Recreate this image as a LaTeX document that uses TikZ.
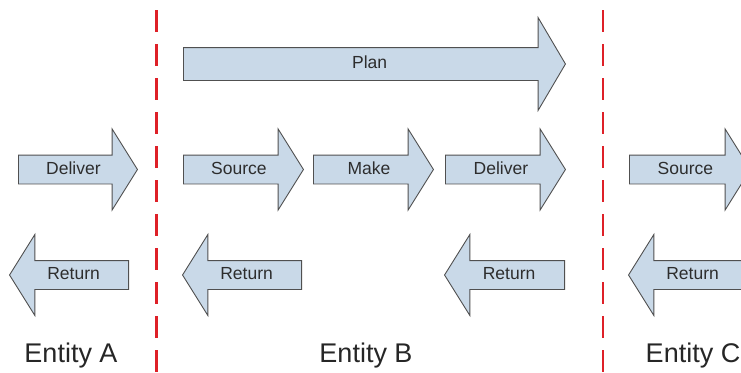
\documentclass[tikz,border=0pt]{standalone}
\usepackage{fontspec}
\setmainfont{Liberation Sans}
\usepackage{xcolor}
\usetikzlibrary{shapes,arrows,positioning,calc}

\definecolor{arrowfill}{RGB}{201,217,232}
\definecolor{arrowline}{RGB}{80,80,80}
\definecolor{arrowtext}{RGB}{45,45,45}
\definecolor{splitred}{RGB}{222,32,40}

\tikzset{
    flow/.style={single arrow, draw=arrowline, fill=arrowfill, line width=0.9pt,
        text=arrowtext, font=\fontsize{17.5}{19}\selectfont,
        text height=12.5pt, text depth=3.5pt, inner xsep=2pt, inner ysep=6pt,
        single arrow head extend=26pt, single arrow tip angle=116,
        minimum height=119pt, anchor=tail},
    backflow/.style={flow, shape border rotate=180},
    entity/.style={font=\fontsize{27}{30}\selectfont, text=black!85},
    split/.style={draw=splitred, line width=2.5pt, dash pattern=on 22pt off 12pt}
}

\begin{document}
\begin{tikzpicture}[x=1pt, y=-1pt]
    \useasboundingbox (0,0) rectangle (741,372);
    \clip (0,0) rectangle (741,372);

    % Entity A
    \node[flow] (deliverA) at (18,169.5) {Deliver};
    \node[backflow] (returnA) at (129,275) {Return};
    \node[entity] (entityA) at (71,356) {Entity A};

    % Entity B
    \node[flow, minimum height=382pt, text height=13pt, text depth=4pt, inner ysep=7.5pt,
        single arrow head extend=30pt, single arrow tip angle=119] (plan) at (183,64) {Plan};
    \node[flow, minimum height=120pt] (sourceB) at (183,169.5) {Source};
    \node[flow, minimum height=120pt] (makeB) at (313,169.5) {Make};
    \node[flow, minimum height=120pt] (deliverB) at (445,169.5) {Deliver};
    \node[backflow] (returnB1) at (302,275) {Return};
    \node[backflow, minimum height=120pt] (returnB2) at (565,275) {Return};
    \node[entity] (entityB) at (366,356) {Entity B};

    % Entity C
    \node[flow, minimum height=121pt] (sourceC) at (629,169.5) {Source};
    \node[backflow] (returnC) at (748,275) {Return};
    \node[entity] (entityC) at (693,356) {Entity C};

    % boundaries between entities
    \coordinate (ab top) at (156.5,10);
    \coordinate (ab bottom) at (156.5,380);
    \coordinate (bc top) at (603,10);
    \coordinate (bc bottom) at (603,380);
    \draw[split] (ab top) -- (ab bottom);
    \draw[split] (bc top) -- (bc bottom);
\end{tikzpicture}
\end{document}
